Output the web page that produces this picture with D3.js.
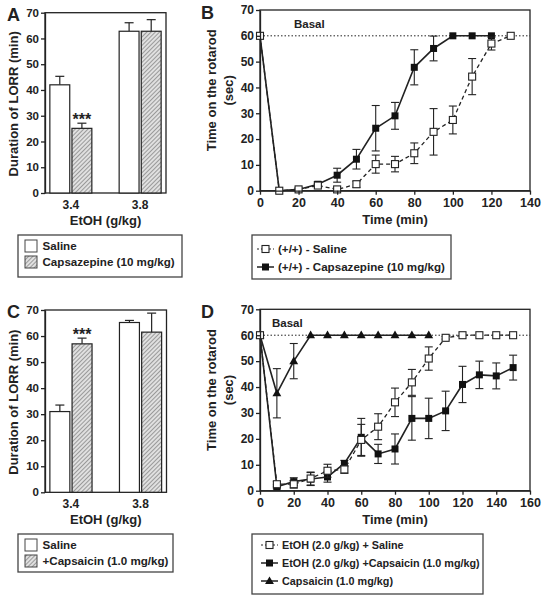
<!DOCTYPE html>
<html><head><meta charset="utf-8">
<script src="https://cdn.jsdelivr.net/npm/d3@7"></script>
<style>
body{margin:0;background:#fff;}
text{font-family:"Liberation Sans",Arial,sans-serif;font-weight:bold;fill:#222;}
</style></head>
<body><svg id="chart" width="549" height="601"></svg>
<script>
// ---------- DATA ----------
const barCats = ["3.4", "3.8"];
const yTicksBar = [0,10,20,30,40,50,60,70];
const yTicksLine = [0,10,20,30,40,50,60,70];

// Panel A
const aSeriesNames = ["Saline", "Capsazepine (10 mg/kg)"];
const aSaline = [42, 62.8];
const aSalineErr = [3.3, 3.3];
const aCpz = [25.1, 62.8];
const aCpzErr = [2.0, 4.5];

// Panel B
const bTimeSaline = [0,10,20,30,40,50,60,70,80,90,100,110,120,130];
const bSaline    = [60,0,0.5,2,0.5,2.5,10.3,10.3,14.5,22.8,27.4,44.2,57,60];
const bSalineErr = [0,0,0.5,0.8,0.5,1.2,3.5,3,4,9,5.4,7,2.5,0];
const bTimeCpz = [0,10,20,30,40,50,60,70,80,90,100,110,120];
const bCpz    = [60,0,0.5,2.5,6,12.2,24.2,29,47.8,55.1,60,60,60];
const bCpzErr = [0,0,0.5,1,2.7,3.8,8.8,5.2,6.8,4.8,0,0,0];
const bXTicks = [0,20,40,60,80,100,120,140];
const bLegend = ["(+/+) - Saline", "(+/+) - Capsazepine (10 mg/kg)"];

// Panel C
const cSeriesNames = ["Saline", "+Capsaicin (1.0 mg/kg)"];
const cSaline = [31, 65.2];
const cSalineErr = [2.5, 0.8];
const cCap = [57, 61.5];
const cCapErr = [2.2, 7.3];

// Panel D
const dTime = [0,10,20,30,40,50,60,70,80,90,100,110,120,130,140,150];
const dSaline    = [60,2.5,2.5,4.7,7.7,8.2,19.6,24.7,34.1,41.8,51,59,60,60,60,60];
const dSalineErr = [0,1,1.5,2.5,2.5,1.5,6,5,5.5,5,4.5,0.5,0,0,0,0];
const dCap    = [60,1.5,3.5,4.5,5.3,10.5,20.6,14.2,16.1,27.9,27.9,30.8,41,44.7,44.3,47.5];
const dCapErr = [0,0.8,1.5,2.5,2,1.2,7.3,3.7,5.8,8.4,7.8,7.6,7,5.3,5,4.8];
const dTimeCapOnly = [0,10,20,30,40,50,60,70,80,90,100];
const dCapOnly    = [60,37.6,50,60,60,60,60,60,60,60,60];
const dCapOnlyErr = [0,9.5,6.8,0,0,0,0,0,0,0,0];
const dXTicks = [0,20,40,60,80,100,120,140,160];
const dLegend = ["EtOH (2.0 g/kg) + Saline", "EtOH (2.0 g/kg) +Capsaicin (1.0 mg/kg)", "Capsaicin (1.0 mg/kg)"];
const basal = 60;

// ---------- DRAWING ----------
const svg = d3.select("#chart");
const ink = "#222";

const defs = svg.append("defs");
const pat = defs.append("pattern").attr("id","hatch").attr("patternUnits","userSpaceOnUse")
  .attr("width",3).attr("height",3).attr("patternTransform","rotate(45)");
pat.append("rect").attr("width",3).attr("height",3).attr("fill","#e0e0e0");
pat.append("line").attr("x1",0).attr("y1",0).attr("x2",0).attr("y2",3).attr("stroke","#6a6a6a").attr("stroke-width",1.2);

function styleAxis(g, fs){
  g.selectAll("path").attr("stroke",ink).attr("stroke-width",1.3);
  g.selectAll(".tick line").attr("stroke",ink).attr("stroke-width",1.3);
  g.selectAll(".tick text").attr("font-size",fs).attr("fill",ink)
    .attr("font-family","'Liberation Sans',Arial,sans-serif").attr("font-weight","bold");
}

function barPanel(o){
  const y = d3.scaleLinear().domain([0,70]).range([o.y0,o.y1]);
  const x = d3.scaleBand().domain(barCats).range([o.x0,o.x1]).paddingInner(0.394).paddingOuter(0.07);
  const xs = d3.scaleBand().domain([0,1]).range([0,x.bandwidth()]).paddingInner(0.1);
  const g = svg.append("g");
  g.append("rect").attr("x",o.x0).attr("y",o.y1).attr("width",o.x1-o.x0).attr("height",o.y0-o.y1)
    .attr("fill","none").attr("stroke",ink).attr("stroke-width",1.3);
  const series = [{v:o.s0,e:o.e0,fill:"#fff"},{v:o.s1,e:o.e1,fill:"url(#hatch)"}];
  series.forEach((s,si)=>{
    barCats.forEach((c,ci)=>{
      const bx = x(c)+xs(si), bw = xs.bandwidth();
      const cx = bx+bw/2;
      g.append("line").attr("x1",cx).attr("x2",cx).attr("y1",y(s.v[ci])).attr("y2",y(s.v[ci]+s.e[ci]))
        .attr("stroke",ink).attr("stroke-width",1.2);
      g.append("line").attr("x1",cx-4.5).attr("x2",cx+4.5).attr("y1",y(s.v[ci]+s.e[ci])).attr("y2",y(s.v[ci]+s.e[ci]))
        .attr("stroke",ink).attr("stroke-width",1.2);
      g.append("rect").attr("x",bx).attr("y",y(s.v[ci])).attr("width",bw).attr("height",y(0)-y(s.v[ci]))
        .attr("fill",s.fill).attr("stroke",ink).attr("stroke-width",1.2);
    });
  });
  g.append("text").attr("x",x(barCats[0])+xs(1)+xs.bandwidth()/2).attr("y",y(o.s1[0]+o.e1[0])+2)
    .attr("text-anchor","middle").attr("font-size",16).text("***");
  const ya = g.append("g").attr("transform",`translate(${o.x0},0)`)
    .call(d3.axisLeft(y).tickValues(yTicksBar).tickSize(4).tickPadding(2).tickSizeOuter(0));
  styleAxis(ya, 11.5);
  const xa = g.append("g").attr("transform",`translate(0,${o.y0})`)
    .call(d3.axisBottom(x).tickSize(0).tickPadding(7).tickSizeOuter(0));
  styleAxis(xa, 12);
  xa.select("path").remove();
  g.append("text").attr("x",(o.x0+o.x1)/2).attr("y",o.y0+32).attr("text-anchor","middle").attr("font-size",13).text("EtOH (g/kg)");
  g.append("text").attr("transform",`translate(17.5,${(o.y0+o.y1)/2+1}) rotate(-90)`).attr("text-anchor","middle")
    .attr("font-size",13).text("Duration of LORR (min)");
  g.append("text").attr("x",7).attr("y",o.y1+8).attr("font-size",18).text(o.letter);
  const L = o.leg;
  g.append("rect").attr("x",L.x).attr("y",L.y).attr("width",L.w).attr("height",L.h).attr("fill","#fff")
    .attr("stroke","#444").attr("stroke-width",1.3);
  o.names.forEach((n,i)=>{
    const iy = L.y+11+i*16;
    g.append("rect").attr("x",L.x+7).attr("y",iy-6).attr("width",12).attr("height",12)
      .attr("fill", i===0?"#fff":"url(#hatch)").attr("stroke","#444").attr("stroke-width",1);
    g.append("text").attr("x",L.x+24.5).attr("y",iy+4.2).attr("font-size",11.6).text(n);
  });
}

function drawSeries(g,x,y,ts,vs,es,opt){
  const line = d3.line().x((d,i)=>x(ts[i])).y(d=>y(d));
  g.append("path").datum(vs).attr("d",line).attr("fill","none").attr("stroke",ink)
    .attr("stroke-width",opt.dash?1.3:1.6).attr("stroke-dasharray",opt.dash?"4,3":null);
  vs.forEach((v,i)=>{
    if(es[i]>0){
      const cx=x(ts[i]);
      g.append("line").attr("x1",cx).attr("x2",cx).attr("y1",y(v-es[i])).attr("y2",y(v+es[i])).attr("stroke",ink).attr("stroke-width",1.1);
      [v-es[i],v+es[i]].forEach(e=>g.append("line").attr("x1",cx-4).attr("x2",cx+4).attr("y1",y(e)).attr("y2",y(e)).attr("stroke",ink).attr("stroke-width",1.1));
    }
  });
  vs.forEach((v,i)=>marker(g,x(ts[i]),y(v),opt.shape));
}
function marker(g,cx,cy,shape){
  if(shape==="open") g.append("rect").attr("x",cx-3.5).attr("y",cy-3.5).attr("width",7).attr("height",7).attr("fill","#fff").attr("stroke",ink).attr("stroke-width",1.1);
  else if(shape==="fill") g.append("rect").attr("x",cx-3.5).attr("y",cy-3.5).attr("width",7).attr("height",7).attr("fill","#111");
  else g.append("path").attr("d",d3.symbol(d3.symbolTriangle,34)()).attr("transform",`translate(${cx},${cy+0.5})`).attr("fill","#111");
}

function linePanel(o){
  const x = d3.scaleLinear().domain([0,o.xmax]).range([o.x0,o.x1]);
  const y = d3.scaleLinear().domain([0,70]).range([o.y0,o.y1]);
  const g = svg.append("g");
  g.append("rect").attr("x",o.x0).attr("y",o.y1).attr("width",o.x1-o.x0).attr("height",o.y0-o.y1)
    .attr("fill","none").attr("stroke",ink).attr("stroke-width",1.3);
  g.append("line").attr("x1",x(0)).attr("x2",o.x1).attr("y1",y(basal)).attr("y2",y(basal))
    .attr("stroke",ink).attr("stroke-width",1).attr("stroke-dasharray","1.5,2");
  g.append("text").attr("x",o.basalX).attr("y",y(basal)-8).attr("font-size",11.5).text("Basal");
  o.series.forEach(s=>drawSeries(g,x,y,s.t,s.v,s.e,s));
  const ya = g.append("g").attr("transform",`translate(${o.x0},0)`)
    .call(d3.axisLeft(y).tickValues(yTicksLine).tickSize(4).tickPadding(2).tickSizeOuter(0));
  styleAxis(ya, 12);
  const xa = g.append("g").attr("transform",`translate(0,${o.y0})`)
    .call(d3.axisBottom(x).tickValues(o.xticks).tickSize(4).tickPadding(3).tickSizeOuter(0));
  styleAxis(xa, 12.5);
  g.append("text").attr("x",(o.x0+o.x1)/2).attr("y",o.y0+33).attr("text-anchor","middle").attr("font-size",13).text("Time (min)");
  const cy=(o.y0+o.y1)/2-10;
  g.append("text").attr("transform",`translate(216,${cy}) rotate(-90)`).attr("text-anchor","middle").attr("font-size",13).text("Time on the rotarod");
  g.append("text").attr("transform",`translate(233,${cy}) rotate(-90)`).attr("text-anchor","middle").attr("font-size",13).text("(sec)");
  g.append("text").attr("x",201).attr("y",o.y1+9).attr("font-size",18).text(o.letter);
  const L=o.leg;
  g.append("rect").attr("x",L.x).attr("y",L.y).attr("width",L.w).attr("height",L.h).attr("fill","#fff")
    .attr("stroke","#444").attr("stroke-width",1.3);
  o.legItems.forEach((it,i)=>{
    const iy=L.y+L.first+i*L.step;
    g.append("line").attr("x1",L.x+L.sx0).attr("x2",L.x+L.sx1).attr("y1",iy).attr("y2",iy).attr("stroke",ink)
      .attr("stroke-width",it.dash?1.1:1.5).attr("stroke-dasharray",it.dash?"2,2":null);
    marker(g,L.x+(L.sx0+L.sx1)/2,iy,it.shape);
    g.append("text").attr("x",L.x+L.tx).attr("y",iy+4).attr("font-size",L.fs).text(it.name);
  });
}

barPanel({x0:45,x1:166,y0:193,y1:12.7,s0:aSaline,e0:aSalineErr,s1:aCpz,e1:aCpzErr,letter:"A",
  names:aSeriesNames,leg:{x:18,y:235,w:164,h:42}});
barPanel({x0:45,x1:166.5,y0:492.3,y1:310,s0:cSaline,e0:cSalineErr,s1:cCap,e1:cCapErr,letter:"C",
  names:cSeriesNames,leg:{x:18,y:534,w:155,h:38}});

linePanel({x0:260,x1:530,y0:190.7,y1:10,xmax:140,xticks:bXTicks,letter:"B",basalX:294,
  series:[
    {t:bTimeCpz,v:bCpz,e:bCpzErr,shape:"fill",dash:false},
    {t:bTimeSaline,v:bSaline,e:bSalineErr,shape:"open",dash:true}],
  legItems:[{name:bLegend[0],shape:"open",dash:true},{name:bLegend[1],shape:"fill",dash:false}],
  leg:{x:252,y:235,w:199,h:44,first:14,step:18,sx0:5,sx1:22,tx:26,fs:11.6}});

linePanel({x0:260,x1:530,y0:490.7,y1:309.3,xmax:160,xticks:dXTicks,letter:"D",basalX:272,
  series:[
    {t:dTimeCapOnly,v:dCapOnly,e:dCapOnlyErr,shape:"tri",dash:false},
    {t:dTime,v:dCap,e:dCapErr,shape:"fill",dash:false},
    {t:dTime,v:dSaline,e:dSalineErr,shape:"open",dash:true}],
  legItems:[{name:dLegend[0],shape:"open",dash:true},{name:dLegend[1],shape:"fill",dash:false},{name:dLegend[2],shape:"tri",dash:false}],
  leg:{x:252,y:534,w:231,h:60,first:11,step:18,sx0:9,sx1:26,tx:30,fs:10.8}});
</script></body></html>
